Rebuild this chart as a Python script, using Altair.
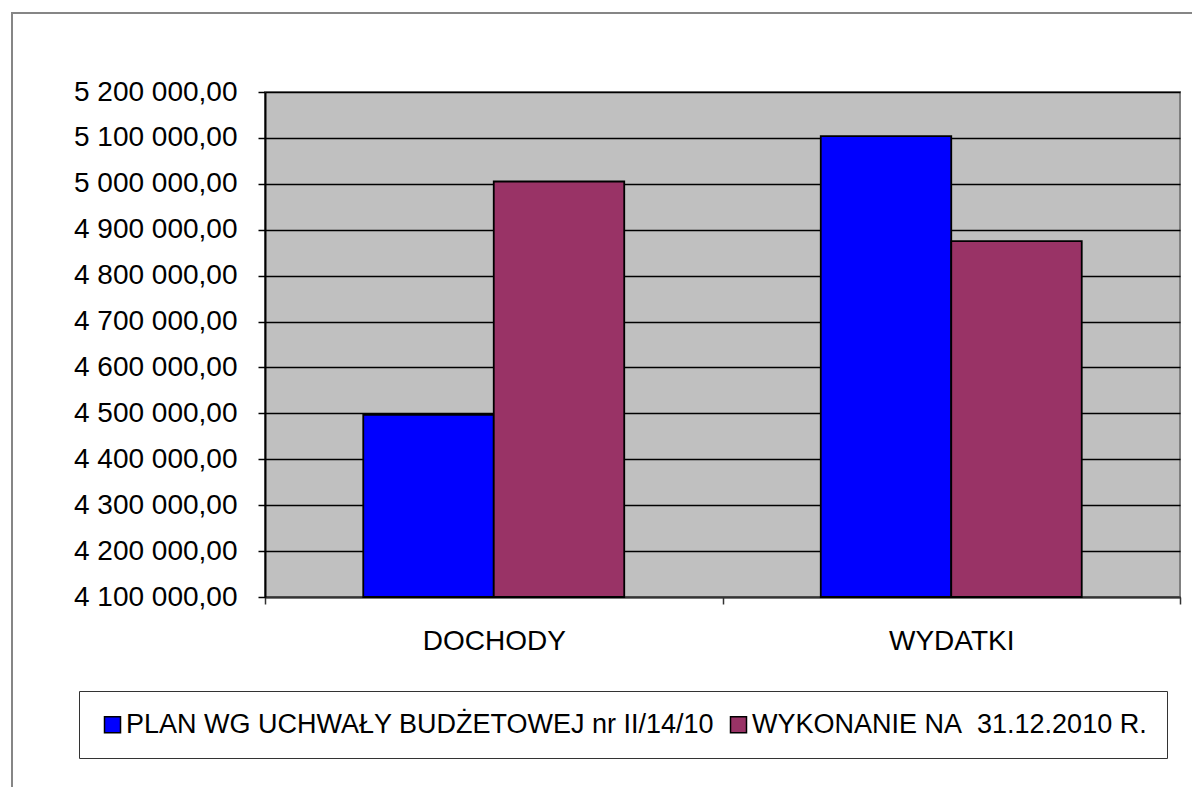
import altair as alt
import pandas as pd

# ---- data ----
categories = ["DOCHODY", "WYDATKI"]
series = ["PLAN WG UCHWAŁY BUDŻETOWEJ nr II/14/10", "WYKONANIE NA\u00a0 31.12.2010 R."]
plan_values = [4497000, 5104000]
wykonanie_values = [5005000, 4875000]
colors = ["#0000FF", "#993366"]
y_min, y_max = 4100000, 5200000
y_ticks = list(range(4100000, 5200001, 100000))

rows = []
for c, p, w in zip(categories, plan_values, wykonanie_values):
    rows.append({"kategoria": c, "seria": series[0], "wartosc": p})
    rows.append({"kategoria": c, "seria": series[1], "wartosc": w})
df = pd.DataFrame(rows)

FONT = "Liberation Sans"
FS_AXIS = 28
FS_LEGEND = 27

label_expr = "replace(join(split(format(datum.value, ',.2f'), ','), ' '), '.', ',')"

bars = alt.Chart(df).mark_bar(stroke="black", strokeWidth=1.8).encode(
    x=alt.X(
        "kategoria:N",
        sort=categories,
        scale=alt.Scale(paddingInner=0, paddingOuter=0),
        axis=alt.Axis(
            title=None, labelAngle=0, tickBand="extent", grid=False,
            labelFont=FONT, labelFontSize=FS_AXIS, labelColor="black",
            labelPadding=23, tickSize=7, tickColor="#333333", tickWidth=1.5,
            domainColor="#333333", domainWidth=2,
        ),
    ),
    xOffset=alt.XOffset("seria:N", sort=series,
                        scale=alt.Scale(paddingInner=0, paddingOuter=0.753)),
    y=alt.Y(
        "wartosc:Q",
        scale=alt.Scale(domain=[y_min, y_max], zero=False, nice=False),
        axis=alt.Axis(
            title=None, values=y_ticks, labelExpr=label_expr,
            labelFont=FONT, labelFontSize=FS_AXIS, labelColor="black",
            labelPadding=21, tickSize=7, tickColor="black", tickWidth=1.5,
            domainColor="black", domainWidth=2,
            grid=True, gridColor="black", gridWidth=1.5,
        ),
    ),
    y2=alt.datum(y_min),
    color=alt.Color(
        "seria:N",
        sort=series,
        scale=alt.Scale(domain=series, range=colors),
        legend=alt.Legend(
            title=None, orient="none", legendX=-186, legendY=599,
            direction="horizontal", columns=2, columnPadding=10,
            symbolType="square", symbolSize=256, symbolStrokeColor="black",
            symbolStrokeWidth=1.5, labelOffset=0,
            labelFont=FONT, labelFontSize=FS_LEGEND, labelColor="black", labelLimit=2000,
            padding=20, strokeColor="#333333", fillColor="white",
        ),
    ),
)

frame = alt.Chart(pd.DataFrame({"f": [0]})).mark_rect(
    fillOpacity=0, stroke="#868686", strokeWidth=2
).encode(
    x=alt.value(-253), x2=alt.value(960),
    y=alt.value(-79), y2=alt.value(740),
)

chart = alt.layer(frame, bars).properties(
    width=915,
    height=505,
    padding={"left": 257, "top": 84, "right": 12, "bottom": 190},
    autosize=alt.AutoSizeParams(type="none"),
    background="white",
).configure_view(
    fill="#C0C0C0", stroke="#808080", strokeWidth=2
)

chart.save("out.html", embed_options={"renderer": "svg", "actions": False})
